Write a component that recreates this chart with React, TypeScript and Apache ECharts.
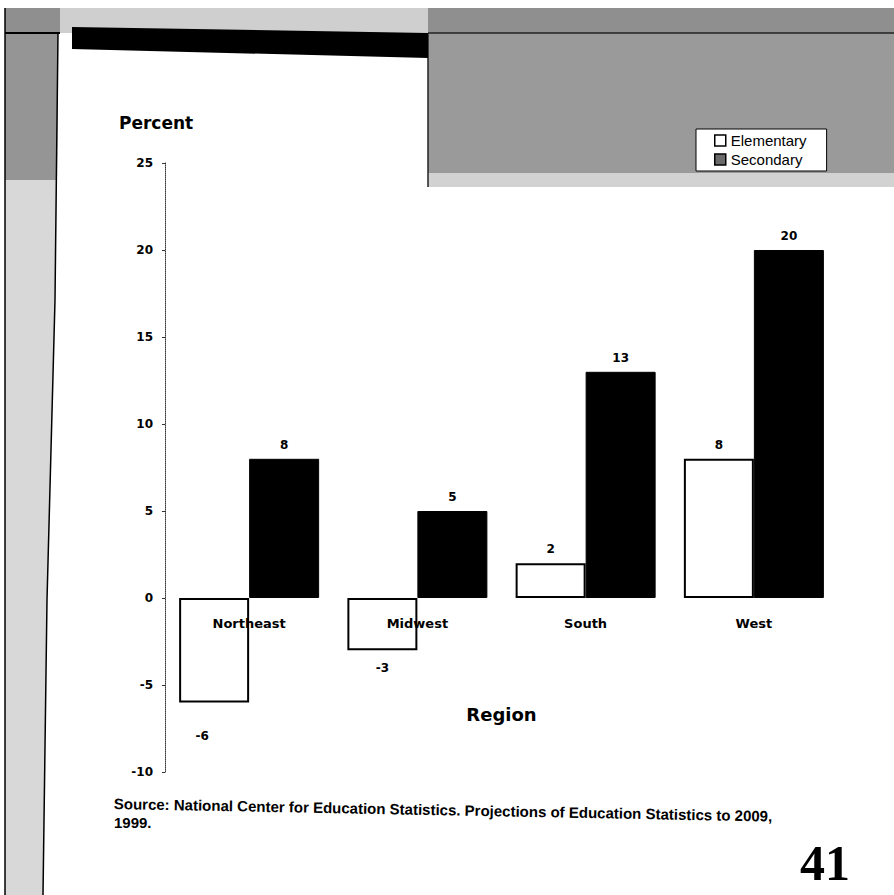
import React, { useEffect, useRef } from 'react';
import * as echarts from 'echarts';

const regions = ['Northeast', 'Midwest', 'South', 'West'];
const elementary = [-6, -3, 2, 8];
const secondary = [8, 5, 13, 20];
const seriesNames = ['Elementary', 'Secondary'];
const yMin = -10;
const yMax = 25;
const yStep = 5;
const yTitle = 'Percent';
const xTitle = 'Region';
const sourceLine1 = 'Source: National Center for Education Statistics. Projections of Education Statistics to 2009,';
const sourceLine2 = '1999.';
const pageNumber = '41';

const BOLD = '"DejaVu Sans", sans-serif';
const SANS = '"Liberation Sans", Arial, sans-serif';

const GRID_TOP = 163;
const GRID_BOTTOM = 123;
const CHART_H = 895;

export default function App() {
  const ref = useRef<HTMLDivElement>(null);
  useEffect(() => {
    if (!ref.current) return;
    const chart = echarts.init(ref.current, null, { renderer: 'svg' });
    const labelStyle = { fontFamily: BOLD, fontWeight: 'bold', fontSize: 12, color: '#000' };
    const elemData = elementary.map((v, i) => ({
      value: v,
      label: {
        show: true,
        position: v < 0 ? 'bottom' : 'top',
        distance: v < 0 ? (i === 0 ? 28 : 12) : 8,
        offset: v < 0 && i === 0 ? [-12, 0] : [0, 0],
        ...labelStyle,
      },
    }));
    const secData = secondary.map((v) => ({
      value: v,
      label: { show: true, position: v < 0 ? 'bottom' : 'top', distance: 8, ...labelStyle },
    }));
    // distance from the grid bottom to the zero line, so the category axis sits on zero
    const plotH = CHART_H - GRID_TOP - GRID_BOTTOM;
    const zeroFromBottom = (plotH * (0 - yMin)) / (yMax - yMin);
    chart.setOption({
      animation: false,
      backgroundColor: '#ffffff',
      grid: { left: 165, right: 56, top: GRID_TOP, bottom: GRID_BOTTOM, containLabel: false, outerBoundsMode: 'none' },
      legend: {
        orient: 'vertical',
        left: 696,
        top: 129,
        padding: [4, 20, 4, 18],
        itemWidth: 11,
        itemHeight: 11,
        itemGap: 4,
        backgroundColor: '#ffffff',
        borderColor: '#000',
        borderWidth: 1,
        textStyle: { fontFamily: SANS, fontSize: 15, color: '#000' },
        data: [
          { name: seriesNames[0], icon: 'rect', itemStyle: { color: '#fff', borderColor: '#000', borderWidth: 1.5 } },
          { name: seriesNames[1], icon: 'rect', itemStyle: { color: '#6a6a6a', borderColor: '#000', borderWidth: 1.5 } },
        ],
      },
      xAxis: {
        type: 'category',
        data: regions,
        z: 10,
        offset: -zeroFromBottom,
        axisLine: { show: false, onZero: false },
        axisTick: { show: false },
        axisLabel: { margin: 19, fontFamily: BOLD, fontWeight: 'bold', fontSize: 13, color: '#000' },
        name: xTitle,
        nameLocation: 'middle',
        nameGap: 107,
        nameTextStyle: { fontFamily: BOLD, fontWeight: 'bold', fontSize: 18, color: '#000' },
      },
      yAxis: {
        type: 'value',
        min: yMin,
        max: yMax,
        interval: yStep,
        axisLine: { show: true, onZero: false, lineStyle: { color: '#333', width: 1, type: 'dotted' } },
        axisTick: { show: true, length: 3, lineStyle: { color: '#333' } },
        splitLine: { show: false },
        axisLabel: { margin: 12, fontFamily: BOLD, fontWeight: 'bold', fontSize: 12, color: '#000' },
      },
      series: [
        {
          name: seriesNames[0],
          type: 'bar',
          data: elemData,
          barWidth: 70,
          barGap: '0%',
          itemStyle: { color: '#ffffff', borderColor: '#000', borderWidth: 2 },
        },
        {
          name: seriesNames[1],
          type: 'bar',
          data: secData,
          barWidth: 70,
          barGap: '0%',
          itemStyle: { color: '#000000', borderColor: '#000', borderWidth: 1 },
        },
      ],
      graphic: {
        elements: [
          { type: 'rect', z: -5, shape: { x: 5, y: 8, width: 889, height: 25 }, style: { fill: '#8f8f8f' } },
          { type: 'rect', z: -5, shape: { x: 60, y: 8, width: 368, height: 25 }, style: { fill: '#cfcfcf' } },
          { type: 'rect', z: -5, shape: { x: 428, y: 33, width: 466, height: 140 }, style: { fill: '#9a9a9a' } },
          { type: 'rect', z: -5, shape: { x: 428, y: 173, width: 466, height: 14 }, style: { fill: '#d2d2d2' } },
          { type: 'polygon', z: -5, shape: { points: [[5, 33], [58, 33], [57, 180], [5, 180]] }, style: { fill: '#959595' } },
          { type: 'polygon', z: -5, shape: { points: [[5, 180], [57, 180], [55, 300], [47, 600], [43, 895], [5, 895]] }, style: { fill: '#d8d8d8' } },
          { type: 'polyline', z: -4, shape: { points: [[58, 33], [55, 300], [47, 600], [43, 895]] }, style: { stroke: '#000', lineWidth: 1.5, fill: null } },
          { type: 'line', z: -4, shape: { x1: 5, y1: 8, x2: 5, y2: 895 }, style: { stroke: '#000', lineWidth: 1.5 } },
          { type: 'line', z: -4, shape: { x1: 5, y1: 33, x2: 60, y2: 33 }, style: { stroke: '#000', lineWidth: 2 } },
          { type: 'line', z: -4, shape: { x1: 428, y1: 33, x2: 894, y2: 33 }, style: { stroke: '#222', lineWidth: 1.5 } },
          { type: 'line', z: -4, shape: { x1: 428, y1: 33, x2: 428, y2: 187 }, style: { stroke: '#222', lineWidth: 1.5 } },
          { type: 'polygon', z: -4, shape: { points: [[72, 27], [428, 33], [428, 58], [72, 49]] }, style: { fill: '#000' } },
          {
            type: 'text', z: 5, x: 119, y: 114,
            style: { text: yTitle, fontFamily: BOLD, fontWeight: 'bold', fontSize: 17, fill: '#000' },
          },
          {
            type: 'text', z: 5, x: 114, y: 796, rotation: -0.019,
            style: { text: sourceLine1, fontFamily: SANS, fontWeight: 'bold', fontSize: 15, fill: '#000' },
          },
          {
            type: 'text', z: 5, x: 114, y: 815,
            style: { text: sourceLine2, fontFamily: SANS, fontWeight: 'bold', fontSize: 15, fill: '#000' },
          },
          {
            type: 'text', z: 5, x: 800, y: 838,
            style: { text: pageNumber, fontFamily: '"Liberation Serif", serif', fontWeight: 'bold', fontSize: 50, fill: '#000' },
          },
        ],
      },
    });
    return () => chart.dispose();
  }, []);
  return (
    <div
      ref={ref}
      style={{ position: 'fixed', left: 0, top: 0, width: 894, height: 895, background: '#fff' }}
    />
  );
}
